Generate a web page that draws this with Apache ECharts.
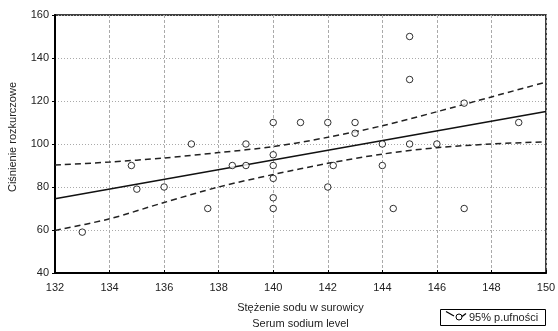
<!DOCTYPE html>
<html lang="pl">
<head>
    <meta charset="UTF-8">
    <title>Ciśnienie rozkurczowe vs sód</title>
    <script src="https://cdn.jsdelivr.net/npm/echarts@6/dist/echarts.min.js"></script>
    <style>
        html, body { margin: 0; padding: 0; background: #fff; }
        #chart { width: 558px; height: 331px; }
    </style>
</head>
<body>
<div id="chart"></div>
<script>
    // punkty pomiarowe: stężenie sodu / ciśnienie rozkurczowe
    const sodium = [133, 134.8, 135, 136, 137, 137.6, 138.5, 139, 139,
        140, 140, 140, 140, 140, 140, 141, 142, 142, 142.2, 143, 143,
        144, 144, 144.4, 145, 145, 145, 146, 147, 147, 149];
    const pressure = [59, 90, 79, 80, 100, 70, 90, 90, 100,
        110, 95, 90, 84, 75, 70, 110, 110, 80, 90, 110, 105,
        100, 90, 70, 150, 130, 100, 100, 119, 70, 110];

    // prosta regresji
    const fitX = [132, 150];
    const fitY = [74.5, 115.1];

    // 95% przedział ufności
    const bandX = [132, 134, 136, 138, 140, 142, 144, 146, 148, 150];
    const bandUpper = [90.2, 91.6, 93.5, 96.0, 98.8, 103.1, 108.5, 115.0, 121.9, 128.8];
    const bandLower = [59.8, 65.2, 72.8, 80.0, 85.8, 91.0, 95.3, 98.3, 100.0, 101.0];

    const font = 'Liberation Sans, Arial, sans-serif';
    const pair = (xs, ys) => xs.map((x, i) => [x, ys[i]]);

    const dashed = {
        type: 'line',
        smooth: 0.3,
        symbol: 'none',
        silent: true,
        z: 2,
        lineStyle: { color: '#222', width: 1.5, type: [6, 4] }
    };

    let chart = echarts.init(document.getElementById('chart'));
    chart.setOption({
        animation: false,
        backgroundColor: '#fff',
        textStyle: { fontFamily: font },
        grid: {
            left: 55, top: 15, width: 491, height: 258,
            outerBoundsMode: 'none',
            containLabel: false,
            show: true, borderColor: '#000', borderWidth: 1.5
        },
        xAxis: {
            type: 'value',
            min: 132, max: 150, interval: 2,
            name: 'Stężenie sodu w surowicy\nSerum sodium level',
            nameLocation: 'middle',
            nameGap: 27,
            nameTextStyle: { fontSize: 11, color: '#222', lineHeight: 16, fontFamily: font },
            axisLine: { lineStyle: { color: '#000', width: 2 } },
            axisTick: { show: true, inside: true, length: 3, lineStyle: { color: '#000' } },
            axisLabel: { fontSize: 11, color: '#222', margin: 9, fontFamily: font },
            splitLine: { show: true, lineStyle: { color: '#aaa', type: [3, 2], width: 1 } }
        },
        yAxis: {
            type: 'value',
            min: 40, max: 160, interval: 20,
            axisLine: { show: true, lineStyle: { color: '#000', width: 2 } },
            axisTick: { show: true, inside: false, length: 3, lineStyle: { color: '#000' } },
            axisLabel: { fontSize: 11, color: '#222', margin: 6, fontFamily: font },
            splitLine: { show: true, lineStyle: { color: '#aaa', type: [1, 2], width: 1 } }
        },
        series: [
            {
                type: 'line',
                name: 'regresja',
                symbol: 'none',
                silent: true,
                z: 3,
                lineStyle: { color: '#111', width: 1.6 },
                data: pair(fitX, fitY)
            },
            Object.assign({ name: '95% p.ufności', data: pair(bandX, bandUpper) }, dashed),
            Object.assign({ name: '95% p.ufności dolna', data: pair(bandX, bandLower) }, dashed),
            {
                type: 'scatter',
                name: 'pomiary',
                symbol: 'circle',
                symbolSize: 6.5,
                z: 5,
                itemStyle: { color: '#fff', borderColor: '#000', borderWidth: 1 },
                data: pair(sodium, pressure)
            }
        ],
        graphic: [
            {
                type: 'text',
                x: 13, y: 137,
                rotation: Math.PI / 2,
                style: {
                    text: 'Ciśnienie rozkurczowe',
                    fontSize: 11, fontFamily: font, fill: '#222',
                    align: 'center', verticalAlign: 'middle'
                }
            },
            {
                type: 'group',
                left: 440, top: 309,
                children: [
                    {
                        type: 'rect',
                        shape: { x: 0.5, y: 0.5, width: 105, height: 16 },
                        style: { fill: '#fff', stroke: '#000', lineWidth: 1 }
                    },
                    {
                        type: 'polyline',
                        shape: { points: [[6, 2.5], [14, 7]] },
                        style: { stroke: '#000', lineWidth: 1.3, fill: null }
                    },
                    {
                        type: 'circle',
                        shape: { cx: 19, cy: 8, r: 3 },
                        style: { fill: '#fff', stroke: '#000', lineWidth: 1 }
                    },
                    {
                        type: 'polyline',
                        shape: { points: [[22, 7.5], [26, 4.5]] },
                        style: { stroke: '#000', lineWidth: 1.3, fill: null }
                    },
                    {
                        type: 'text',
                        x: 29, y: 8.5,
                        style: {
                            text: '95% p.ufności',
                            fontSize: 11, fontFamily: font, fill: '#222',
                            verticalAlign: 'middle'
                        }
                    }
                ]
            }
        ]
    });
</script>
</body>
</html>
